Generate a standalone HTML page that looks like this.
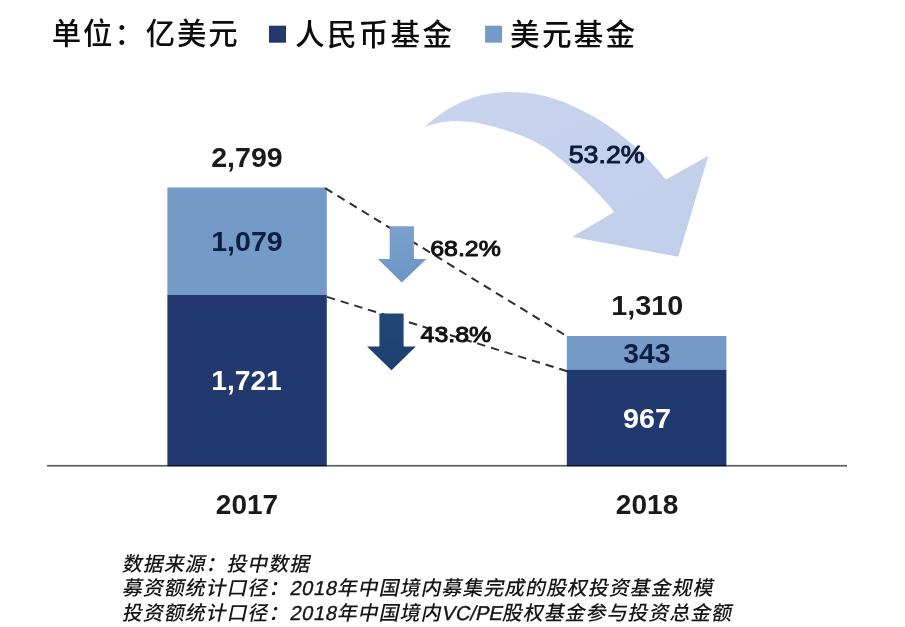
<!DOCTYPE html>
<html lang="zh-CN">
<head>
<meta charset="utf-8">
<title>单位：亿美元 人民币基金 美元基金</title>
<style>
html,body{margin:0;padding:0;background:#fff;}
body{width:905px;height:627px;overflow:hidden;position:relative;}
svg{display:block;position:absolute;left:0;top:0;}
text{font-family:"Liberation Sans","Noto Sans CJK SC",sans-serif;}
.num{font-weight:bold;font-size:27px;}
.pct{font-weight:normal;font-size:22.7px;stroke:#111;stroke-width:1px;stroke-linejoin:round;}
.big{font-size:24.2px;stroke:#0b1a38;}
.foot{font-size:20px;letter-spacing:0.93px;font-weight:500;fill:#161616;}
.fd{letter-spacing:0.75px;stroke:#161616;stroke-width:0.4px;}
.fl{letter-spacing:0.1px;stroke:#161616;stroke-width:0.4px;}
</style>
</head>
<body>
<svg width="905" height="627" viewBox="0 0 905 627">
  <defs>
    <linearGradient id="gBig" x1="0" y1="0" x2="1" y2="1">
      <stop offset="0" stop-color="#c9d5ee"/>
      <stop offset="1" stop-color="#c1ceeb"/>
    </linearGradient>
    <linearGradient id="gLight" x1="0" y1="0" x2="0" y2="1">
      <stop offset="0" stop-color="#7aa1cc"/>
      <stop offset="1" stop-color="#6b95c4"/>
    </linearGradient>
    <linearGradient id="gDark" x1="0" y1="0" x2="0" y2="1">
      <stop offset="0" stop-color="#214878"/>
      <stop offset="1" stop-color="#1c3f6e"/>
    </linearGradient>
  </defs>
  <rect width="905" height="627" fill="#ffffff"/>

  <!-- big curved arrow -->
  <path fill="url(#gBig)" d="M424.5 126.7 C426.4 125.2 431.7 120.7 435.6 117.7 C439.6 114.8 443.9 111.6 448.2 109.0 C452.5 106.4 457.0 103.9 461.4 101.9 C465.8 99.9 470.3 98.3 474.7 97.0 C479.1 95.7 483.5 94.7 487.9 94.0 C492.3 93.2 496.8 92.7 501.2 92.4 C505.6 92.1 510.0 92.0 514.5 92.2 C519.0 92.3 523.6 92.5 528.0 93.1 C532.5 93.6 537.2 94.4 541.5 95.3 C545.7 96.2 549.6 97.4 553.5 98.6 C557.4 99.8 561.0 101.1 564.7 102.6 C568.4 104.1 572.2 105.7 575.9 107.5 C579.6 109.2 583.3 111.1 587.0 113.0 C590.7 115.0 594.5 117.0 598.2 119.3 C601.9 121.6 605.6 123.9 609.4 126.6 C613.2 129.2 616.9 131.9 620.9 135.0 C624.9 138.1 629.3 141.6 633.6 145.4 C637.8 149.2 642.7 153.8 646.7 157.9 C650.7 162.0 654.6 166.3 657.8 169.9 C661.0 173.5 664.6 178.0 666.0 179.6 L708.4 155.7 L678.3 256.8 L572.3 236.7 L614.2 212 C613.1 210.7 610.5 207.4 607.8 204.3 C605.1 201.3 601.7 197.4 598.2 193.8 C594.7 190.1 590.7 186.1 587.0 182.5 C583.3 178.9 579.6 175.5 575.9 172.1 C572.2 168.8 568.4 165.5 564.7 162.4 C561.0 159.3 557.3 156.3 553.5 153.4 C549.7 150.6 546.0 148.0 541.9 145.5 C537.8 143.1 533.4 140.8 529.0 138.7 C524.5 136.7 519.5 134.9 514.9 133.3 C510.3 131.6 505.7 130.3 501.2 128.9 C496.7 127.6 492.3 126.4 487.9 125.3 C483.5 124.2 479.1 123.3 474.7 122.6 C470.3 121.9 465.8 121.4 461.4 121.2 C457.0 121.0 452.5 121.0 448.2 121.4 C443.9 121.8 439.6 122.5 435.6 123.4 C431.7 124.3 426.4 126.2 424.5 126.7 Z"/>


  <!-- bars -->
  <rect x="167.4" y="187.5" width="159.4" height="108" fill="#749ac8"/>
  <rect x="167.4" y="295" width="159.4" height="171.2" fill="#223970"/>
  <rect x="566.8" y="336" width="159.6" height="34" fill="#749ac8"/>
  <rect x="566.8" y="369.9" width="159.6" height="96.3" fill="#223970"/>

  <!-- axis -->
  <rect x="47" y="464.9" width="800" height="1.7" fill="#5e5e5e" style="mix-blend-mode:multiply"/>

  <!-- dashed connectors -->
  <g stroke="#2e2e2e" stroke-width="2" stroke-dasharray="8.4 5.9" fill="none">
    <line x1="325.2" y1="188.2" x2="566.3" y2="335.9"/>
    <line x1="327" y1="296.9" x2="567" y2="371.2"/>
  </g>

  <!-- small arrows -->
  <path fill="url(#gLight)" d="M389.7 226.2 H413.9 V259.1 H426.4 L401.8 282.4 L377.9 259.1 H389.7 Z"/>
  <path fill="url(#gDark)" d="M379.4 313.6 H403.6 V346.4 H415.8 L391.5 370.3 L367 346.4 H379.4 Z"/>

  <!-- legend -->
  <rect x="269" y="25.7" width="17" height="17" fill="#223970"/>
  <rect x="485.1" y="25.7" width="17" height="17" fill="#749ac8"/>
  <text x="51.8" y="44.3" font-size="29.4" letter-spacing="1.9" font-weight="500" fill="#0c0c0c">单位：亿美元</text>
  <text x="295.1" y="45.3" font-size="29.6" letter-spacing="2.23" font-weight="500" fill="#0c0c0c">人民币基金</text>
  <text x="510.1" y="45.3" font-size="29.6" letter-spacing="2.23" font-weight="500" fill="#0c0c0c">美元基金</text>

  <!-- numbers -->
  <text id="n2799" class="num" x="211.21" y="167.1" textLength="71.47" lengthAdjust="spacingAndGlyphs" fill="#1a1a1a">2,799</text>
  <text id="n1079" class="num" x="211.20" y="250.9" textLength="71.48" lengthAdjust="spacingAndGlyphs" fill="#0c1e42">1,079</text>
  <text id="n1721" class="num" x="211.22" y="390.4" textLength="70.59" lengthAdjust="spacingAndGlyphs" fill="#ffffff">1,721</text>
  <text id="n2017" class="num" x="215.83" y="514.0" textLength="62.39" lengthAdjust="spacingAndGlyphs" fill="#1a1a1a">2017</text>
  <text id="n1310" class="num" x="611.18" y="315.4" textLength="72.12" lengthAdjust="spacingAndGlyphs" fill="#1a1a1a">1,310</text>
  <text id="n343" class="num" x="623.27" y="362.8" textLength="47.24" lengthAdjust="spacingAndGlyphs" fill="#0c1e42">343</text>
  <text id="n967" class="num" x="623.05" y="428.2" textLength="47.88" lengthAdjust="spacingAndGlyphs" fill="#ffffff">967</text>
  <text id="n2018" class="num" x="615.83" y="514.0" textLength="62.46" lengthAdjust="spacingAndGlyphs" fill="#1a1a1a">2018</text>
  <text id="p532" class="pct big" x="568.74" y="163.2" textLength="75.79" lengthAdjust="spacingAndGlyphs" fill="#0b1a38">53.2%</text>
  <text id="p682" class="pct" x="430.23" y="256.3" textLength="70.70" lengthAdjust="spacingAndGlyphs" fill="#111111">68.2%</text>
  <text id="p438" class="pct" x="420.50" y="342.4" textLength="70.83" lengthAdjust="spacingAndGlyphs" fill="#111111">43.8%</text>

  <!-- footer -->
  <text class="foot" transform="translate(121.8 570.8) skewX(-12)">数据来源：投中数据</text>
  <text class="foot" transform="translate(121.8 595.4) skewX(-12)">募资额统计口径：<tspan class="fd">2018</tspan>年中国境内募集完成的股权投资基金规模</text>
  <text class="foot" transform="translate(121.8 619.9) skewX(-12)">投资额统计口径：<tspan class="fd">2018</tspan>年中国境内<tspan class="fl">VC/PE</tspan>股权基金参与投资总金额</text>
</svg>
</body>
</html>
